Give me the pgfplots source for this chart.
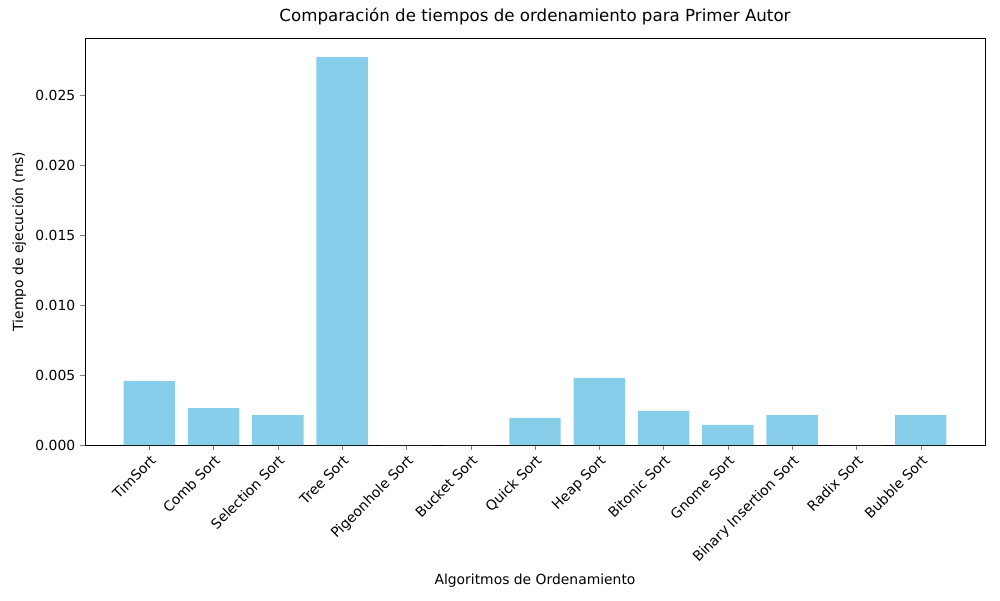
\documentclass[border=0pt]{standalone}
\usepackage{pgfplots}
\pgfplotsset{compat=1.18}
\usepackage{fontspec}
\setmainfont{DejaVu Sans}
\begin{document}
\begin{tikzpicture}
\begin{axis}[
  at={(0,0)}, anchor=south west,
  width=648pt, height=293pt, scale only axis,
  xmin=-1.0, xmax=13.0, ymin=0, ymax=0.02907,
  ybar, bar width=0.8, bar shift=0pt,
  xtick={0,...,12},
  xticklabels={TimSort,Comb Sort,Selection Sort,Tree Sort,Pigeonhole Sort,Bucket Sort,Quick Sort,Heap Sort,Bitonic Sort,Gnome Sort,Binary Insertion Sort,Radix Sort,Bubble Sort},
  x tick label style={rotate=45, anchor=north east, font=\fontsize{10}{12}\selectfont, inner sep=2pt},
  y tick label style={font=\fontsize{10}{12}\selectfont, /pgf/number format/fixed, /pgf/number format/fixed zerofill, /pgf/number format/precision=3},
  /pgf/number format/assume math mode=true,
  ytick={0,0.005,0.01,0.015,0.02,0.025},
  scaled y ticks=false,
  tick align=outside, tick pos=left,
  major tick length=3.5pt,
  xlabel={Algoritmos de Ordenamiento}, ylabel={Tiempo de ejecución (ms)},
  label style={font=\fontsize{10}{12}\selectfont},
  title={Comparación de tiempos de ordenamiento para Primer Autor},
  title style={font=\fontsize{12}{14}\selectfont},
]
\addplot[fill={rgb,255:red,135;green,206;blue,235}, draw=none] coordinates {
(0,0.00457) (1,0.00264) (2,0.00214) (3,0.02771) (4,0) (5,0) (6,0.00193) (7,0.00479) (8,0.00243) (9,0.00143) (10,0.00214) (11,0) (12,0.00214)};
\end{axis}
\path[use as bounding box] (-61.2pt,-111.6pt) rectangle (658.8pt,320.4pt);
\end{tikzpicture}
\end{document}
